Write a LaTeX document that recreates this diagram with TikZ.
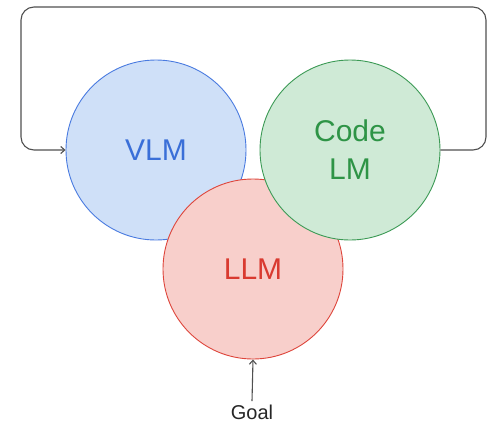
\documentclass[tikz,border=0pt]{standalone}
\usepackage{fontspec}
\setmainfont{Liberation Sans}
\usetikzlibrary{arrows.meta}
\definecolor{vlmfill}{HTML}{CFE0F8}
\definecolor{vlmline}{HTML}{4A7BE0}
\definecolor{vlmtext}{HTML}{3A6FD8}
\definecolor{codefill}{HTML}{CFEAD6}
\definecolor{codeline}{HTML}{3C9A55}
\definecolor{codetext}{HTML}{2E9446}
\definecolor{llmfill}{HTML}{F8CFCB}
\definecolor{llmline}{HTML}{DE463C}
\definecolor{llmtext}{HTML}{D93A30}
\definecolor{wire}{HTML}{505050}
\tikzset{
  model/.style={circle, minimum size=180pt, inner sep=0pt, line width=0.9pt, align=center,
    font=\fontsize{30}{36}\selectfont},
  wireline/.style={draw=wire, line width=1.1pt, -{Straight Barb[length=4pt,width=7pt]}}
}
\begin{document}
\begin{tikzpicture}[x=1pt, y=-1pt]
  \useasboundingbox (0,0) rectangle (503,426);
  \node[model, fill=vlmfill, draw=vlmline, text=vlmtext] (vlm) at (156,150) {VLM};
  \node[model, fill=llmfill, draw=llmline, text=llmtext] (llm) at (253,269) {LLM};
  \node[model, fill=codefill, draw=codeline, text=codetext] (code) at (350,150) {Code\\[2pt]LM};
  \node[font=\fontsize{20}{22}\selectfont, text=black!85] (goal) at (252,412) {Goal};
  % feedback loop from Code LM back to VLM
  \draw[wireline, rounded corners=13pt] (code.east) -- (486,150) -- (486,7) -- (21,7) -- (21,150) -- (vlm.west);
  \draw[wireline] (goal.north) -- (llm.south);
\end{tikzpicture}
\end{document}
